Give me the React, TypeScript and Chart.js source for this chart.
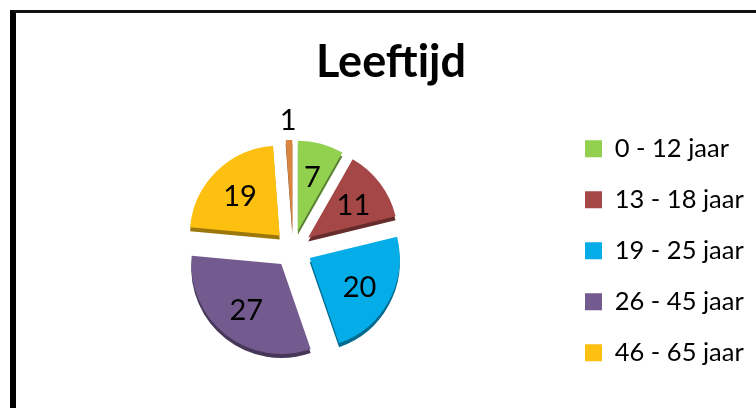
import React, { useEffect, useRef } from "react";
import { Chart, registerables } from "chart.js";

Chart.register(...registerables);

const categories = ["0 - 12 jaar", "13 - 18 jaar", "19 - 25 jaar", "26 - 45 jaar", "46 - 65 jaar", "66+ jaar"];
const values = [7, 11, 20, 27, 19, 1];
const colors = ["#92D050", "#A54747", "#04ACE8", "#735A8F", "#FDC010", "#D9843F"];
const chartTitle = "Leeftijd";
const FONT = "Lato, 'Noto Sans', sans-serif";
const EXPLODE = 19;

// Pull each slice out of the pie without distorting its angle.
const explodePlugin = {
  id: "explode",
  afterDatasetsUpdate(chart: any) {
    chart.getDatasetMeta(0).data.forEach((arc: any) => {
      const mid = (arc.startAngle + arc.endAngle) / 2;
      arc.x += Math.cos(mid) * EXPLODE - 2;
      arc.y += Math.sin(mid) * EXPLODE + 1;
    });
  },
};

const depthPlugin = {
  id: "depth",
  beforeDatasetsDraw(chart: any) {
    const ctx = chart.ctx;
    const arcs = chart.getDatasetMeta(0).data;
    ctx.save();
    ctx.translate(0, 4);
    ctx.filter = "brightness(0.62)";
    arcs.forEach((arc: any) => arc.draw(ctx));
    ctx.restore();
  },
};

const valueLabelPlugin = {
  id: "valueLabels",
  afterDatasetsDraw(chart: any) {
    const ctx = chart.ctx;
    const arcs = chart.getDatasetMeta(0).data;
    ctx.save();
    ctx.font = `29px ${FONT}`;
    ctx.fillStyle = "#000";
    ctx.textAlign = "center";
    ctx.textBaseline = "middle";
    arcs.forEach((arc: any, i: number) => {
      const { x, y, startAngle, endAngle, outerRadius } = arc.getProps(["x", "y", "startAngle", "endAngle", "outerRadius"]);
      const mid = (startAngle + endAngle) / 2;
      const r = values[i] < 3 ? outerRadius * 1.24 : outerRadius * 0.63;
      ctx.fillText(String(values[i]), x + Math.cos(mid) * r, y + Math.sin(mid) * r + 2);
    });
    ctx.restore();
  },
};

export default function App() {
  const ref = useRef<HTMLCanvasElement>(null);
  useEffect(() => {
    document.body.style.margin = "0";
    const chart = new Chart(ref.current!, {
      type: "pie",
      data: {
        labels: categories,
        datasets: [{ data: values, backgroundColor: colors, borderWidth: 0, radius: 90, hoverOffset: 0 }],
      },
      options: {
        responsive: false,
        animation: false,
        layout: { padding: { top: 0, right: 14.5, bottom: 17, left: 14.5 } },
        plugins: {
          title: {
            display: true,
            text: chartTitle,
            color: "#000",
            font: { family: FONT, size: 45, weight: "bold" },
            padding: { top: 22, bottom: 16 },
          },
          legend: {
            display: true,
            position: "right",
            align: "end",
            maxWidth: 192,
            labels: {
              filter: (item: any) => item.index < 5,
              boxWidth: 17,
              boxHeight: 17,
              padding: 25.5,
              color: "#000",
              font: { family: FONT, size: 25.5 },
            },
          },
          tooltip: { enabled: false },
        },
      },
      plugins: [explodePlugin, depthPlugin, valueLabelPlugin],
    } as any);
    return () => chart.destroy();
  }, []);
  return (
    <div style={{ position: "relative", width: 756, height: 408, overflow: "hidden", background: "#fff" }}>
      <div style={{ position: "absolute", left: 10, top: 10, width: 746, height: 398, boxSizing: "border-box", borderLeft: "6px solid #000", borderTop: "3px solid #111" }} />
      <canvas ref={ref} width={750} height={395} style={{ position: "absolute", left: 16, top: 13, width: 750, height: 395 }} />
    </div>
  );
}
